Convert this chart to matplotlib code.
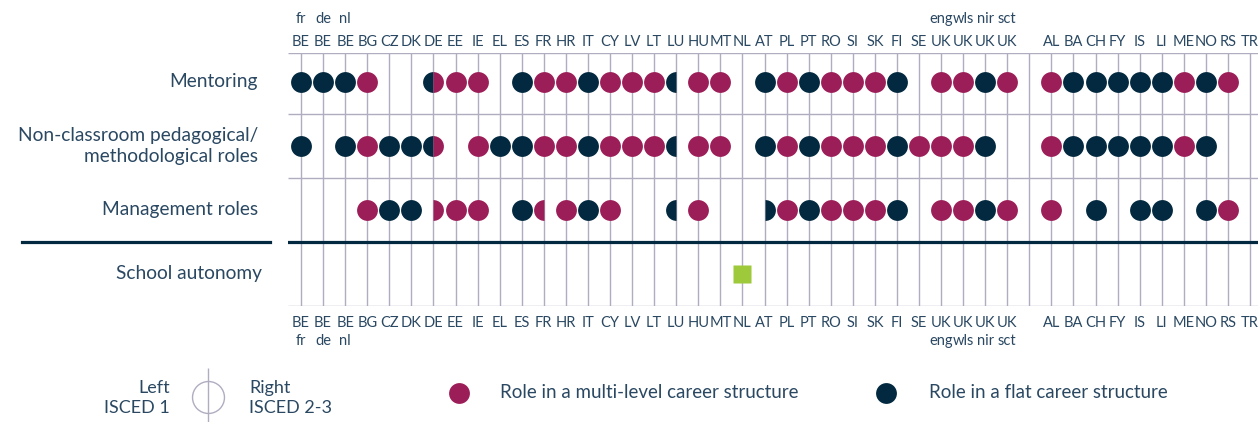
import matplotlib.pyplot as plt

plt.rcParams['font.family'] = ['Lato', 'DejaVu Sans']

# country columns (a blank column separates UK from the non-EU countries)
countries = ['BE', 'BE', 'BE', 'BG', 'CZ', 'DK', 'DE', 'EE', 'IE', 'EL', 'ES', 'FR', 'HR', 'IT',
             'CY', 'LV', 'LT', 'LU', 'HU', 'MT', 'NL', 'AT', 'PL', 'PT', 'RO', 'SI', 'SK', 'FI',
             'SE', 'UK', 'UK', 'UK', 'UK',
             'AL', 'BA', 'CH', 'FY', 'IS', 'LI', 'ME', 'NO', 'RS', 'TR']
subs = ['fr', 'de', 'nl'] + [''] * 26 + ['eng', 'wls', 'nir', 'sct'] + [''] * 10

# two letters per cell: left half (ISCED 1), right half (ISCED 2-3)
# M = multi-level career structure, F = flat career structure, - = none
mentoring = ['FF', 'FF', 'FF', 'MM', '--', '--', 'FM', 'MM', 'MM', '--', 'FF', 'MM', 'MM', 'FF',
             'MM', 'MM', 'MM', 'F-', 'MM', 'MM', '--', 'FF', 'MM', 'FF', 'MM', 'MM', 'MM', 'FF',
             '--', 'MM', 'MM', 'FF', 'MM',
             'MM', 'FF', 'FF', 'FF', 'FF', 'FF', 'MM', 'FF', 'MM', '--']
non_classroom = ['FF', '--', 'FF', 'MM', 'FF', 'FF', 'FM', '--', 'MM', 'FF', 'FF', 'MM', 'MM', 'FF',
                 'MM', 'MM', 'MM', 'F-', 'MM', 'MM', '--', 'FF', 'MM', 'FF', 'MM', 'MM', 'MM', 'FF',
                 'MM', 'MM', 'MM', 'FF', '--',
                 'MM', 'FF', 'FF', 'FF', 'FF', 'FF', 'MM', 'FF', '--', '--']
management = ['--', '--', '--', 'MM', 'FF', 'FF', '-M', 'MM', 'MM', '--', 'FF', 'M-', 'MM', 'FF',
              'MM', '--', '--', 'F-', 'MM', '--', '--', '-F', 'MM', 'FF', 'MM', 'MM', 'MM', 'FF',
              '--', 'MM', 'MM', 'FF', 'MM',
              'MM', '--', 'FF', '--', 'FF', 'FF', '--', 'FF', 'MM', '--']
autonomy = ['NL']

row_labels = ['Mentoring', 'Non-classroom pedagogical/\nmethodological roles',
              'Management roles', 'School autonomy']

MAGENTA = '#9c1e58'
NAVY = '#02293f'
GREEN = '#9dc93a'
GRID = '#b0adc0'
TEXT = '#2a4862'
colors = {'M': MAGENTA, 'F': NAVY}

W, H = 1258, 422
fig = plt.figure(figsize=(W / 100, H / 100), dpi=100)

# main grid axes: columns at x = 301 + 22.07 * i px, rows 64 px apart
ax = fig.add_axes([288 / W, 1 - 306 / H, 970 / W, 253 / H])
ax.set_xlim(-0.59, 43.36)
ax.set_ylim(3.5, -0.45)
ax.axis('off')

xpos = [i if i < 33 else i + 1 for i in range(len(countries))]

ax.vlines(range(44), -0.45, 3.5, color=GRID, lw=1, zorder=1)
ax.hlines([-0.45, 0.5, 1.5, 3.5], -0.59, 43.36, color=GRID, lw=1, zorder=1)
ax.axhline(2.5, color=NAVY, lw=2.3, zorder=2)
ax.axhline(2.5, xmin=-0.274, xmax=-0.019, color=NAVY, lw=2.3, clip_on=False)

MS = 15
for r, row in enumerate([mentoring, non_classroom, management]):
    for x, code in zip(xpos, row):
        left, right = code[0], code[1]
        if left == '-' and right == '-':
            continue
        if left == right:
            ax.plot(x, r, 'o', ms=MS, mfc=colors[left], mec='none', zorder=3)
        else:
            ax.plot(x, r, 'o', ms=MS, fillstyle='left', mfc=colors.get(left, 'none'),
                    markerfacecoloralt=colors.get(right, 'none'), mec='none', zorder=3)

for x, c in zip(xpos, countries):
    if c in autonomy:
        ax.plot(x, 3, 's', ms=13.5, mfc=GREEN, mec='none', zorder=3)

# column labels, top and bottom
for x, c, s in zip(xpos, countries, subs):
    ax.text(x, -0.625, c, ha='center', va='center', fontsize=10.5, color=TEXT, clip_on=False)
    ax.text(x, 3.77, c, ha='center', va='center', fontsize=10.5, color=TEXT, clip_on=False)
    if s:
        ax.text(x, -0.985, s, ha='center', va='center', fontsize=10.5, color=TEXT, clip_on=False)
        ax.text(x, 4.05, s, ha='center', va='center', fontsize=10.5, color=TEXT, clip_on=False)

# row labels
for r, lab in enumerate(row_labels):
    ax.text(-1.95 if r < 3 else -1.75, r, lab, ha='right', va='center', fontsize=13.8,
            color=TEXT, linespacing=1.3, clip_on=False)

# legend
lax = fig.add_axes([0, 0, 1, 1])
lax.set_xlim(0, W)
lax.set_ylim(H, 0)
lax.axis('off')
lax.plot(208, 397, 'o', ms=23, mfc='none', mec=GRID, mew=1)
lax.vlines(208, 368, 422, color=GRID, lw=1)
lax.text(170, 398, 'Left\nISCED 1', ha='right', va='center', fontsize=13, color=TEXT, linespacing=1.25)
lax.text(249, 398, 'Right\nISCED 2-3', ha='left', va='center', fontsize=13, color=TEXT, linespacing=1.25)
lax.plot(459, 393, 'o', ms=15, mfc=MAGENTA, mec='none')
lax.text(500, 393, 'Role in a multi-level career structure', ha='left', va='center', fontsize=13.5, color=TEXT)
lax.plot(886, 393, 'o', ms=15, mfc=NAVY, mec='none')
lax.text(929, 393, 'Role in a flat career structure', ha='left', va='center', fontsize=13.5, color=TEXT)

fig.savefig('out.png', dpi=100)
